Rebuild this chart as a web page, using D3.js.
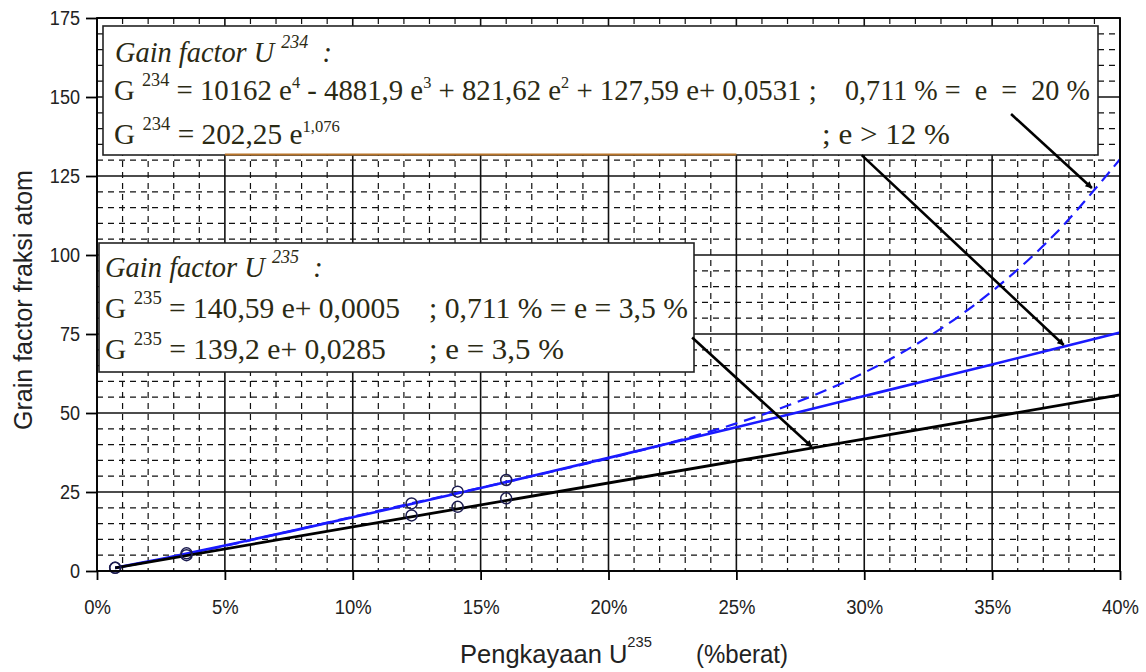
<!DOCTYPE html>
<html><head><meta charset="utf-8">
<script src="https://cdn.jsdelivr.net/npm/d3@7"></script>
<style>body{margin:0;background:#fff}svg{display:block}text{white-space:pre}</style>
</head><body>
<svg id="c" width="1146" height="672"></svg>
<script>
// ---- data ----
const enrichment = [0.711, 2.5, 5, 7.5, 10, 12.5, 15, 17.5, 20, 22.5, 25, 27.5, 30, 32.5, 35, 37.5, 40]; // % weight
const g234Power  = [0.99, 3.82, 8.06, 12.46, 16.98, 21.58, 26.26, 31.0, 35.8, 40.63, 45.5, 50.42, 55.38, 60.35, 65.36, 70.4, 75.5];
const g234Poly   = [1.0, 3.68, 7.94, 12.51, 17.16, 21.79, 26.34, 30.91, 35.63, 40.78, 46.72, 53.87, 62.78, 74.08, 88.54, 106.96, 130.3];
const g235E      = [0.711, 40];
const g235Vals   = [1.02, 55.7];
const pointE     = [0.711, 3.5, 12.3, 14.1, 16.0];
const pointG234  = [1.0, 5.6, 21.4, 25.1, 28.8];
const pointG235  = [1.0, 5.0, 17.6, 20.3, 23.0];
const xTicks      = [0, 5, 10, 15, 20, 25, 30, 35, 40];
const xTickLabels = ["0%", "5%", "10%", "15%", "20%", "25%", "30%", "35%", "40%"];
const yTicks      = [0, 25, 50, 75, 100, 125, 150, 175];
const yTickLabels = ["0", "25", "50", "75", "100", "125", "150", "175"];
// annotation arrows in data units [e%, G]
const arrowFrom = [[23.27, 73.9], [29.9, 131.6], [35.74, 144.6]];
const arrowTo   = [[27.95, 39.3], [37.8, 71.5], [38.9, 121.2]];

// ---- layout ----
const svg = d3.select("#c");
const L = 97, R = 1120, T = 18, B = 571;
const x = d3.scaleLinear([0, 40], [L, R]);
const y = d3.scaleLinear([0, 175], [B, T]);
svg.append("rect").attr("width", 1146).attr("height", 672).attr("fill", "#fff");

const grid = svg.append("g");
grid.selectAll("line.mx").data(d3.range(1, 40).filter(d => d % 5 !== 0)).join("line")
  .attr("x1", d => x(d)).attr("x2", d => x(d)).attr("y1", T).attr("y2", B)
  .attr("stroke", "#111").attr("stroke-width", 1.2).attr("stroke-dasharray", "6,5");
grid.selectAll("line.my").data(d3.range(5, 175, 5).filter(d => d % 25 !== 0)).join("line")
  .attr("class", "my")
  .attr("x1", L).attr("x2", R).attr("y1", d => y(d)).attr("y2", d => y(d))
  .attr("stroke", "#111").attr("stroke-width", 1.2).attr("stroke-dasharray", "6,5");
grid.append("g").selectAll("line").data(xTicks).join("line")
  .attr("x1", d => x(d)).attr("x2", d => x(d)).attr("y1", T).attr("y2", B)
  .attr("stroke", "#111").attr("stroke-width", 1.6);
grid.append("g").selectAll("line").data(yTicks).join("line")
  .attr("x1", L).attr("x2", R).attr("y1", d => y(d)).attr("y2", d => y(d))
  .attr("stroke", "#111").attr("stroke-width", 1.6);

// ---- series ----
const line = d3.line().x(d => x(d[0])).y(d => y(d[1])).curve(d3.curveCatmullRom);
svg.append("path").datum(enrichment.map((e, i) => [e, g234Poly[i]]))
  .attr("d", line).attr("fill", "none").attr("stroke", "#1a1aff").attr("stroke-width", 2.2)
  .attr("stroke-dasharray", "12,7");
svg.append("path").datum(enrichment.map((e, i) => [e, g234Power[i]]))
  .attr("d", line).attr("fill", "none").attr("stroke", "#1a1aff").attr("stroke-width", 2.6);
svg.append("path").datum(g235E.map((e, i) => [e, g235Vals[i]]))
  .attr("d", d3.line().x(d => x(d[0])).y(d => y(d[1]))).attr("fill", "none")
  .attr("stroke", "#000").attr("stroke-width", 2.8);

const pts = pointE.map((e, i) => [e, pointG234[i]]).concat(pointE.map((e, i) => [e, pointG235[i]]));
svg.append("g").selectAll("circle").data(pts).join("circle")
  .attr("cx", d => x(d[0])).attr("cy", d => y(d[1])).attr("r", 5.5)
  .attr("fill", "none").attr("stroke", "#1c1c50").attr("stroke-width", 1.5);

// ---- plot border ----
svg.append("rect").attr("x", L).attr("y", T).attr("width", R - L).attr("height", B - T)
  .attr("fill", "none").attr("stroke", "#000").attr("stroke-width", 1.8);

// ---- axes ----
const fontSans = "'Liberation Sans', Arial, sans-serif";
const yAx = svg.append("g").attr("transform", `translate(${L},0)`)
  .call(d3.axisLeft(y).tickValues(yTicks).tickFormat((d, i) => yTickLabels[i]).tickSize(11).tickPadding(5));
const xAx = svg.append("g").attr("transform", `translate(0,${B})`)
  .call(d3.axisBottom(x).tickValues(xTicks).tickFormat((d, i) => xTickLabels[i]).tickSize(9).tickPadding(19));
[yAx, xAx].forEach(a => {
  a.select(".domain").remove();
  a.selectAll(".tick line").attr("stroke", "#000").attr("stroke-width", 1.8);
  a.selectAll(".tick text").attr("font-family", fontSans).attr("font-size", 21).attr("fill", "#222");
});
// condensed look of the tick labels
yAx.selectAll(".tick text").each(function () {
  const t = d3.select(this), tx = +t.attr("x");
  t.attr("x", 0).attr("transform", `translate(${tx - 1},0) scale(0.86,1)`);
});
xAx.selectAll(".tick text").attr("transform", "scale(0.88,1)")
  .attr("x", function () { return 0; });
xAx.selectAll(".tick").each(function () {
  const g = d3.select(this);
  const tr = g.attr("transform");
  const tx = +tr.match(/translate\(([-\d.]+)/)[1];
  g.select("text").attr("transform", `scale(0.88,1)`).attr("x", 0);
});

// ---- text helper ----
function fit(t, x0, x1, base) {
  const w = t.node().getComputedTextLength();
  t.attr("transform", `translate(${x0},${base}) scale(${(x1 - x0) / w},1)`);
  return t;
}
const boxInk = "#2b2a14";
const serif = "'Liberation Serif', 'Times New Roman', serif";
function richText(parts, italic) {
  const t = svg.append("text").attr("font-family", serif).attr("font-size", 30)
    .attr("fill", boxInk).attr("font-style", italic ? "italic" : "normal");
  let shift = 0;
  parts.forEach(([s, k]) => {
    const sp = t.append("tspan").text(s);
    const target = k === 1 ? -14 : k === 2 ? -12 : 0;
    if (target !== shift) { sp.attr("dy", target - shift); shift = target; }
    if (k === 1) sp.attr("font-size", 19);
    if (k === 2) sp.attr("font-size", 17);
  });
  return t;
}

// ---- boxes ----
svg.append("rect").attr("x", 103).attr("y", 26).attr("width", 995).attr("height", 129)
  .attr("fill", "#fff").attr("stroke", "#222").attr("stroke-width", 1.6);
svg.append("line").attr("x1", x(5)).attr("x2", x(25)).attr("y1", 154.5).attr("y2", 154.5)
  .attr("stroke", "#b8742a").attr("stroke-width", 2);
svg.append("rect").attr("x", 99).attr("y", 243).attr("width", 595).attr("height", 129)
  .attr("fill", "#fff").attr("stroke", "#222").attr("stroke-width", 1.6);

fit(richText([["Gain factor U ", 0], ["234", 1], ["  :", 0]], true), 115, 332, 62);
fit(richText([["G ", 0], ["234", 1], [" = 10162 e", 0], ["4", 2], [" - 4881,9 e", 0], ["3", 2],
  [" + 821,62 e", 0], ["2", 2], [" + 127,59 e+ 0,0531 ;", 0]]), 114, 817, 100);
fit(richText([["0,711 % =  e  =  20 %", 0]]), 845, 1090, 100);
fit(richText([["G ", 0], ["234", 1], [" = 202,25 e", 0], ["1,076", 2]]), 114, 340, 144);
fit(richText([["; e > 12 %", 0]]), 822, 950, 144);

fit(richText([["Gain factor U ", 0], ["235", 1], ["  :", 0]], true), 105, 323, 277);
fit(richText([["G ", 0], ["235", 1], [" = 140,59 e+ 0,0005", 0]]), 105, 400, 318);
fit(richText([["; 0,711 % = e = 3,5 %", 0]]), 429, 688, 318);
fit(richText([["G ", 0], ["235", 1], [" = 139,2 e+ 0,0285", 0]]), 105, 386, 359);
fit(richText([["; e = 3,5 %", 0]]), 429, 564, 359);

// ---- arrows ----
svg.append("defs").append("marker").attr("id", "ah").attr("viewBox", "0 0 10 10")
  .attr("refX", 9).attr("refY", 5).attr("markerWidth", 10).attr("markerHeight", 7)
  .attr("markerUnits", "userSpaceOnUse").attr("orient", "auto")
  .append("path").attr("d", "M0,0 L10,5 L0,10 z").attr("fill", "#000");
svg.append("g").selectAll("line").data(arrowFrom).join("line")
  .attr("x1", d => x(d[0])).attr("y1", d => y(d[1]))
  .attr("x2", (d, i) => x(arrowTo[i][0])).attr("y2", (d, i) => y(arrowTo[i][1]))
  .attr("stroke", "#000").attr("stroke-width", 2.6).attr("marker-end", "url(#ah)");

// ---- axis titles ----
const yt = svg.append("text").attr("font-family", fontSans).attr("font-size", 26).attr("fill", "#222")
  .attr("text-anchor", "middle").text("Grain factor fraksi atom");
const ytw = yt.node().getComputedTextLength();
yt.attr("transform", `translate(32,300) rotate(-90) scale(${260 / ytw},1)`);

const xt = svg.append("text").attr("font-family", fontSans).attr("font-size", 26).attr("fill", "#222");
xt.append("tspan").text("Pengkayaan U");
xt.append("tspan").text("235").attr("font-size", 15).attr("dy", -16);
fit(xt, 460, 652, 663);
fit(svg.append("text").attr("font-family", fontSans).attr("font-size", 26).attr("fill", "#222")
  .text("(%berat)"), 696, 788, 663);
</script>
</body></html>
